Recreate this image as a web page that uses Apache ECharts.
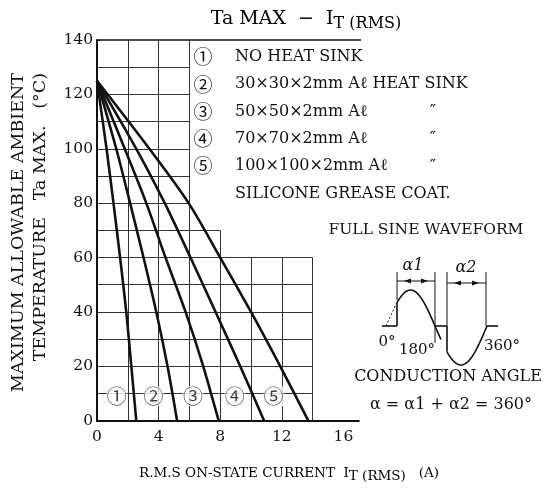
<!DOCTYPE html>
<html>
<head>
<meta charset="utf-8">
<script src="https://cdn.jsdelivr.net/npm/echarts@6/dist/echarts.min.js"></script>
<style>html,body{margin:0;padding:0;background:#fff}#c{width:556px;height:490px}</style>
</head>
<body>
<div id="c"></div>
<script>
// Data (x: RMS on-state current A, y: Ta max °C)
const curve1 = [[0,125],[0.62,100],[1.07,80],[1.5,60],[1.9,40],[2.23,20],[2.55,0]];
const curve2 = [[0,125],[1.25,100],[2.15,80],[3.02,60],[3.85,40],[4.58,20],[5.2,0]];
const curve3 = [[0,125],[1.8,100],[3.2,80],[4.45,60],[5.75,40],[6.9,20],[7.9,0]];
const curve4 = [[0,125],[2.55,100],[4.4,80],[6.07,60],[7.7,40],[9.3,20],[10.85,0]];
const curve5 = [[0,125],[3.4,100],[5.95,80],[8.0,60],[10.0,40],[11.9,20],[13.72,0]];
const curveMarks = ['①','②','③','④','⑤'];
const markX = [1.28, 3.67, 6.24, 8.94, 11.46];
const markY = 9;
// stepped grid: vertical lines [x, topY], horizontal lines [y, rightX]
const vGrid = [[2,140],[4,140],[6,140],[8,70],[10,60],[12,60],[14,60]];
const hGrid = [[10,14],[20,14],[30,14],[40,14],[50,14],[60,14],[70,8],[80,6],[90,6],[100,6],[110,6],[120,6],[130,6]];
const legendLines = ['NO HEAT SINK','30×30×2mm Aℓ HEAT SINK','50×50×2mm Aℓ','70×70×2mm Aℓ','100×100×2mm Aℓ','SILICONE GREASE COAT.'];
const dittoRows = [2,3,4];

const SERIF = '"DejaVu Serif","Liberation Serif",serif';
const CIRC = '"Noto Sans CJK JP","DejaVu Sans",sans-serif';
const chart = echarts.init(document.getElementById('c'));

const gridSegs = [];
vGrid.forEach(([x,t]) => gridSegs.push({coords:[[x,0],[x,t]]}));
hGrid.forEach(([y,r]) => gridSegs.push({coords:[[0,y],[r,y]]}));

function curveSeries(d){
  return {type:'line', data:d, symbol:'none', smooth:0.3, z:5,
    lineStyle:{color:'#111', width:2.6}};
}

// waveform drawing (decorative illustration)
const base = 326;
function sinePts(x0, half, amp, sign, xa, xb){
  const pts=[];
  for(let x=xa; x<=xb+0.01; x+=1){
    pts.push([x, base - sign*amp*Math.sin(Math.PI*(x-x0)/half)]);
  }
  return pts;
}
const posPts = sinePts(386,49,36,1,397,441);
const negPts = sinePts(435,52,39,-1,447,487);
const L = (x1,y1,x2,y2,w) => ({type:'line', shape:{x1,y1,x2,y2}, style:{stroke:'#111', lineWidth:w||1}});
function arrowHead(x,y,dir){
  return {type:'polygon', shape:{points:[[x,y],[x-dir*7,y-2.5],[x-dir*7,y+2.5]]}, style:{fill:'#111'}};
}
const txt = (x,y,text,size,align,extra) => ({type:'text', x, y, style:Object.assign({text, fill:'#111',
  font: (size||16)+'px '+SERIF, textAlign: align||'left', textVerticalAlign:'middle'}, extra||{})});

const graphic = [
  // title
  {type:'text', x:306, y:19, style:{text:'{a|Ta MAX  −  I}{b|T (RMS)}', textAlign:'center', textVerticalAlign:'middle',
    rich:{a:{fontSize:19, fontFamily:SERIF, color:'#111'}, b:{fontSize:16, fontFamily:SERIF, color:'#111', padding:[9,0,0,0]}}}},
  // y axis name (top-aligned, rotated)
  {type:'text', x:18, y:73, rotation:Math.PI/2, style:{text:'MAXIMUM ALLOWABLE AMBIENT', fill:'#111', font:'17.5px '+SERIF, textAlign:'right', textVerticalAlign:'middle'}},
  {type:'text', x:40, y:73, rotation:Math.PI/2, style:{text:'TEMPERATURE   Ta MAX.   (°C)', fill:'#111', font:'17.5px '+SERIF, textAlign:'right', textVerticalAlign:'middle'}},
  // x axis name
  {type:'text', x:289, y:473, style:{text:'{a|R.M.S ON-STATE CURRENT  I}{b|T (RMS)}{a|   (A)}', textAlign:'center', textVerticalAlign:'middle',
    rich:{a:{fontSize:13.5, fontFamily:SERIF, color:'#111'}, b:{fontSize:13.5, fontFamily:SERIF, color:'#111', padding:[7,0,0,0]}}}},
  txt(426,230,'FULL SINE WAVEFORM',15.5,'center'),
  txt(448,377,'CONDUCTION ANGLE',16,'center'),
  txt(451,405,'α = α1 + α2 = 360°',16,'center'),
  txt(387,342,'0°',15,'center'),
  txt(417,350,'180°',15,'center'),
  txt(502,346,'360°',15,'center'),
  txt(413,266,'α1',16,'center',{font:'italic 16px '+SERIF}),
  txt(466,268,'α2',16,'center',{font:'italic 16px '+SERIF}),
  // waveform
  L(382,base,397,base,1.6),
  {type:'line', shape:{x1:386,y1:base,x2:397,y2:302}, style:{stroke:'#111', lineWidth:1, lineDash:[2,2]}},
  L(397,base,397,posPts[0][1],1.6),
  {type:'polyline', shape:{points:posPts}, style:{stroke:'#111', lineWidth:1.6, fill:null}},
  L(435,base,447,base,1.6),
  L(447,base,447,negPts[0][1],1.6),
  {type:'polyline', shape:{points:negPts}, style:{stroke:'#111', lineWidth:1.6, fill:null}},
  L(487,base,498,base,1.6),
  // dimension lines
  L(397,272,397,300,1),
  L(435,272,435,343,1),
  L(447,272,447,326,1),
  L(486,272,486,326,1),
  L(397,281,435,281,1), arrowHead(404,281,-1), arrowHead(428,281,1),
  L(447,283,486,283,1), arrowHead(454,283,-1), arrowHead(479,283,1)
];
legendLines.forEach((t,i) => {
  const y = 57 + i*27.3;
  if(i<5) graphic.push(txt(203,y,curveMarks[i],19,'center',{font:'19px '+CIRC}));
  graphic.push(txt(235,y,t,16,'left'));
});
dittoRows.forEach(i => graphic.push(txt(433,57+i*27.3,'″',17,'center')));

chart.setOption({
  animation:false,
  grid:{left:97, top:40, width:261.8, height:380.7},
  xAxis:{type:'value', min:0, max:17, interval:4,
    axisLine:{lineStyle:{color:'#111', width:2}},
    axisTick:{show:false}, splitLine:{show:false},
    axisLabel:{color:'#111', fontSize:15.5, fontFamily:SERIF, margin:8, showMaxLabel:false,
      formatter:v => (v%4===0 ? String(v) : '')}},
  yAxis:{type:'value', min:0, max:140, interval:20,
    axisLine:{show:true, lineStyle:{color:'#111', width:2}},
    axisTick:{show:true, inside:true, length:3, lineStyle:{color:'#111'}},
    splitLine:{show:false},
    axisLabel:{color:'#111', fontSize:15.5, fontFamily:SERIF, margin:4}},
  series:[
    {type:'lines', coordinateSystem:'cartesian2d', data:gridSegs, silent:true, z:1,
      lineStyle:{color:'#333', width:1, opacity:1}},
    {type:'line', data:[[0,140],[29.9,140]], clip:false, symbol:'none', silent:true, z:2,
      lineStyle:{color:'#111', width:1.6}},
    curveSeries(curve1), curveSeries(curve2), curveSeries(curve3), curveSeries(curve4), curveSeries(curve5),
    {type:'scatter', symbolSize:0, z:6, data:markX.map((x,i)=>({value:[x,markY], name:curveMarks[i]})),
      label:{show:true, position:'inside', formatter:p=>p.name, color:'#111', fontSize:20,
        fontFamily:CIRC, backgroundColor:'#fff', padding:[0,0]}}
  ],
  graphic
});
</script>
</body>
</html>
